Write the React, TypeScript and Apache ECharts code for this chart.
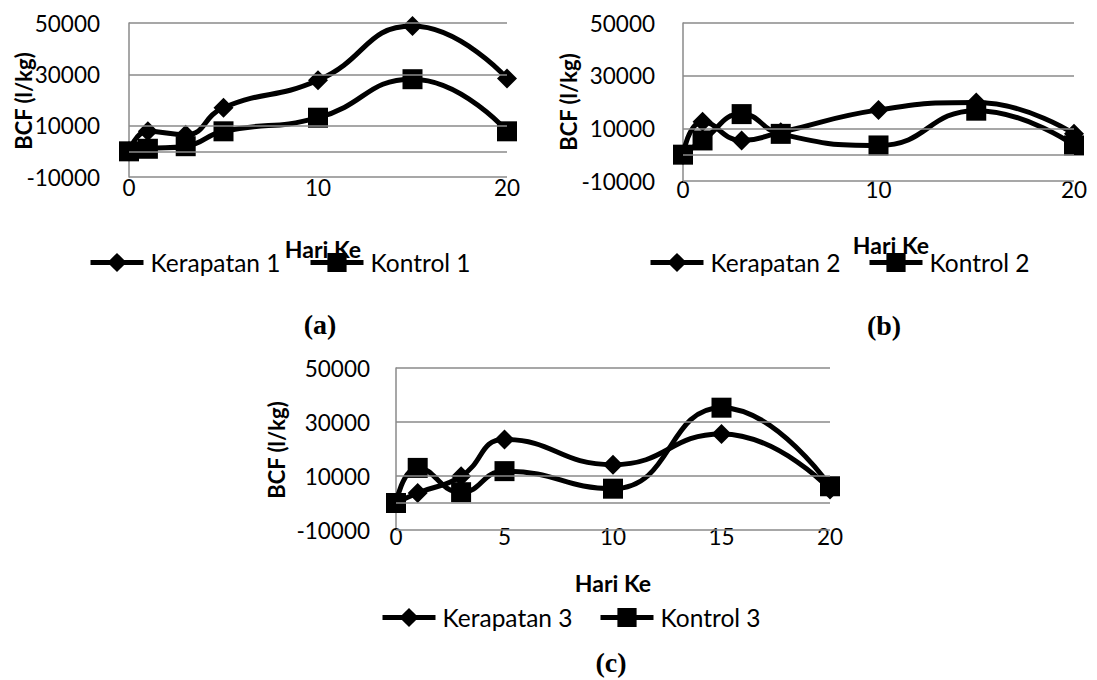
import React, { useEffect, useRef } from "react";
import * as echarts from "echarts";

// Sampling days (Hari Ke) shared by all three panels
const hariKe = [0, 1, 3, 5, 10, 15, 20];

// BCF (l/kg) per panel
const kerapatan1 = [0, 7800, 6500, 17000, 27700, 48800, 28400];
const kontrol1 = [0, 1000, 2000, 7800, 13100, 28100, 7800];
const kerapatan2 = [0, 12500, 5400, 8500, 17000, 19800, 7900];
const kontrol2 = [0, 5400, 15400, 7900, 3500, 16700, 3500];
const kerapatan3 = [0, 3700, 9900, 23500, 14200, 25600, 5000];
const kontrol3 = [0, 13000, 4000, 11800, 5300, 35300, 6200];

// Axis ticks and reference lines
const yTickLabels = [-10000, 10000, 30000, 50000];
const yRefLines = [-10000, 0, 10000, 30000, 50000];
const xSteps = [10, 10, 5];

const panelSeries = [
  [{ name: "Kerapatan 1", values: kerapatan1 }, { name: "Kontrol 1", values: kontrol1 }],
  [{ name: "Kerapatan 2", values: kerapatan2 }, { name: "Kontrol 2", values: kontrol2 }],
  [{ name: "Kerapatan 3", values: kerapatan3 }, { name: "Kontrol 3", values: kontrol3 }],
];
const panelTags = ["(a)", "(b)", "(c)"];
const xTitle = "Hari Ke";
const yTitle = "BCF (l/kg)";

const FONT = "Lato, 'DejaVu Sans', sans-serif";
const SERIF = "'Liberation Serif', 'DejaVu Serif', serif";
const GRAY = "#8a8a8a";

const layouts = [
  {
    grid: { left: 129, top: 23, width: 378, height: 154 },
    xLabelMargin: -1,
    yLabelMargin: 29,
    yTitlePos: [23, 101],
    xTitlePos: [323, 249],
    legendPos: [[88, 250], [308, 250]],
    tagPos: [320, 324],
  },
  {
    grid: { left: 683, top: 23, width: 391, height: 158 },
    xLabelMargin: -3,
    yLabelMargin: 28,
    yTitlePos: [568, 102],
    xTitlePos: [891, 245],
    legendPos: [[648, 250], [867, 250]],
    tagPos: [884, 325],
  },
  {
    grid: { left: 396, top: 368, width: 434, height: 162 },
    xLabelMargin: -5,
    yLabelMargin: 26,
    yTitlePos: [276, 450],
    xTitlePos: [613, 583],
    legendPos: [[380, 605], [598, 605]],
    tagPos: [611, 662],
  },
];

function buildOption() {
  const grid: any[] = [];
  const xAxis: any[] = [];
  const yAxis: any[] = [];
  const series: any[] = [];
  const legend: any[] = [];
  const graphic: any[] = [];

  layouts.forEach((lay, i) => {
    grid.push({ ...lay.grid, containLabel: false });
    xAxis.push({
      gridIndex: i,
      type: "value",
      min: 0,
      max: 20,
      interval: xSteps[i],
      axisLine: { show: false },
      axisTick: { show: false },
      splitLine: { show: false },
      axisLabel: { margin: lay.xLabelMargin, color: "#000", fontFamily: FONT, fontSize: 22.5 },
    });
    yAxis.push({
      gridIndex: i,
      type: "value",
      min: -10000,
      max: 50000,
      interval: 10000,
      axisLine: { show: true, lineStyle: { color: GRAY, width: 1.5 } },
      axisTick: { show: false },
      splitLine: { show: false },
      axisLabel: {
        margin: lay.yLabelMargin,
        color: "#000",
        fontFamily: FONT,
        fontSize: 22.5,
        formatter: (v: number) => (yTickLabels.includes(v) ? String(v) : ""),
      },
    });

    // horizontal reference lines
    series.push({
      type: "line",
      xAxisIndex: i,
      yAxisIndex: i,
      data: [],
      silent: true,
      z: 1,
      markLine: {
        silent: true,
        symbol: ["none", "none"],
        label: { show: false },
        lineStyle: { color: GRAY, width: 1.5, type: "solid" },
        data: yRefLines.map((v) => ({ yAxis: v })),
      },
    });

    panelSeries[i].forEach((s, k) => {
      series.push({
        name: s.name,
        type: "line",
        xAxisIndex: i,
        yAxisIndex: i,
        data: hariKe.map((d, j) => [d, s.values[j]]),
        smooth: 0.5,
        symbol: k === 0 ? "diamond" : "rect",
        symbolSize: k === 0 ? 20 : 20,
        lineStyle: { color: "#000", width: 5 },
        itemStyle: { color: "#000" },
        z: 3 + k,
      });
      legend.push({
        data: [s.name],
        left: lay.legendPos[k][0],
        top: lay.legendPos[k][1],
        itemWidth: 53,
        itemHeight: 24,
        padding: 0,
        selectedMode: false,
        lineStyle: { width: 5, color: "#000" },
        textStyle: { color: "#000", fontFamily: FONT, fontSize: 24.5, padding: [0, 0, 0, 2] },
      });
    });

    graphic.push(
      {
        type: "text",
        x: lay.xTitlePos[0],
        y: lay.xTitlePos[1],
        z: 10,
        style: {
          text: xTitle,
          font: `bold 23px ${FONT}`,
          fill: "#000",
          align: "center",
          verticalAlign: "middle",
          textAlign: "center",
          textVerticalAlign: "middle",
        },
      },
      {
        type: "text",
        x: lay.yTitlePos[0],
        y: lay.yTitlePos[1],
        rotation: Math.PI / 2,
        style: {
          text: yTitle,
          font: `bold 22px ${FONT}`,
          fill: "#000",
          align: "center",
          verticalAlign: "middle",
          textAlign: "center",
          textVerticalAlign: "middle",
        },
      },
      {
        type: "text",
        x: lay.tagPos[0],
        y: lay.tagPos[1],
        style: {
          text: panelTags[i],
          font: `bold 28px ${SERIF}`,
          fill: "#000",
          align: "center",
          verticalAlign: "middle",
          textAlign: "center",
          textVerticalAlign: "middle",
        },
      }
    );
  });

  return {
    animation: false,
    backgroundColor: "#fff",
    grid,
    xAxis,
    yAxis,
    series,
    legend,
    graphic,
  };
}

export default function App() {
  const ref = useRef<HTMLDivElement>(null);
  useEffect(() => {
    if (!ref.current) return;
    const chart = echarts.init(ref.current, undefined, { renderer: "svg" });
    chart.setOption(buildOption() as any);
    return () => chart.dispose();
  }, []);
  return (
    <div
      ref={ref}
      style={{ position: "fixed", left: 0, top: 0, width: 1097, height: 680, background: "#fff" }}
    />
  );
}
